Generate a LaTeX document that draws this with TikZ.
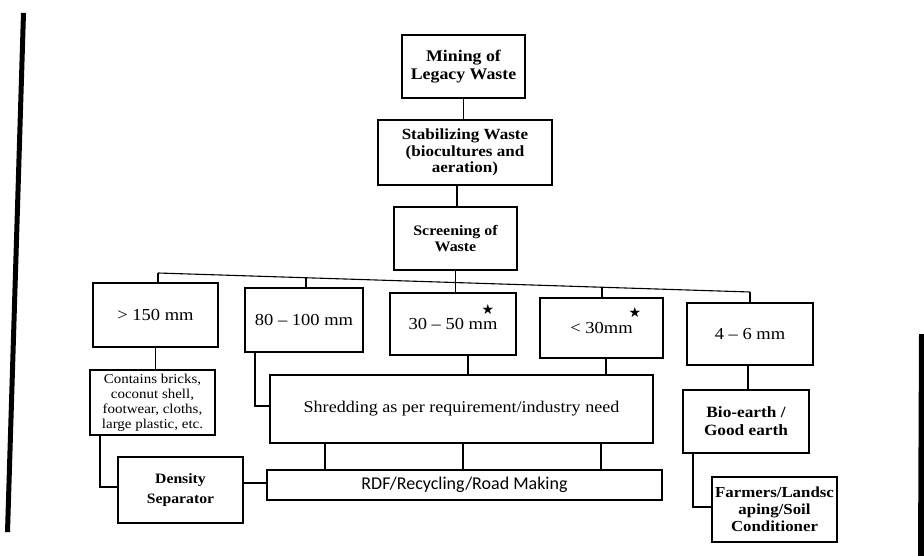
\documentclass[tikz,border=0pt]{standalone}
\usepackage{fontspec}
\setmainfont[FakeStretch=1.1]{Liberation Serif}
\newfontfamily\calib{Carlito}
\newfontfamily\dejavu{DejaVu Sans}
\begin{document}
\begin{tikzpicture}[x=1pt,y=-1pt,
  box/.style={draw, line width=1.1pt, align=center, inner sep=1pt},
  bbox/.style={box, font=\bfseries\fontsize{16.2}{18}\selectfont},
  sbox/.style={box, font=\fontsize{16.8}{18}\selectfont},
  link/.style={line width=1.1pt},
  starmark/.style={font=\dejavu\fontsize{14}{14}\selectfont, inner sep=0pt}]
\useasboundingbox (0,0) rectangle (924,556);
\fill[white] (0,0) rectangle (924,556);
% page border scan artifacts
\fill[black] (21,13) -- (26,13) -- (10,532) -- (5,532) -- cycle;
\fill[black] (919,334) -- (924,334) -- (924,556) -- (918,556) -- cycle;
% top chain
\node[bbox, minimum width=123pt, minimum height=63pt] (mining) at (463.5,66.5) {Mining of\\Legacy Waste};
\node[bbox, font=\bfseries\fontsize{15.5}{16.5}\selectfont, minimum width=174pt, minimum height=65pt] (stab) at (465,152.5) {Stabilizing Waste\\(biocultures and\\aeration)};
\node[bbox, font=\bfseries\fontsize{14.5}{16}\selectfont, minimum width=123pt, minimum height=63pt] (screen) at (455.5,238.5) {Screening of\\Waste};
% size classes
\node[sbox, minimum width=125pt, minimum height=64pt] (s150) at (155.5,315) {{>} 150 mm};
\node[sbox, minimum width=118pt, minimum height=64pt] (s80) at (304,320) {80 -- 100 mm};
\node[sbox, minimum width=126pt, minimum height=62pt] (s30) at (453,324) {30 -- 50 mm};
\node[sbox, minimum width=123pt, minimum height=60pt] (slt) at (601.5,328) {{<} 30mm};
\node[sbox, minimum width=126pt, minimum height=62pt] (s4) at (750,334) {4 -- 6 mm};
\node[starmark] (st1) at (488,309) {★};
\node[starmark] (st2) at (635,312) {★};
% lower level
\node[box, font=\fontsize{13.6}{15}\selectfont, minimum width=125pt, minimum height=65pt] (cont) at (152.5,402.5) {Contains bricks,\\coconut shell,\\footwear, cloths,\\large plastic, etc.};
\node[bbox, font=\bfseries\fontsize{14.3}{20}\selectfont, minimum width=125pt, minimum height=66pt] (dens) at (180.5,490) {Density\\Separator};
\node[sbox, font=\fontsize{16.4}{18}\selectfont, minimum width=383pt, minimum height=68pt] (shred) at (461.5,409) {Shredding as per requirement/industry need};
\node[box, font=\calib\fontsize{18}{20}\selectfont, minimum width=395pt, minimum height=30pt] (rdf) at (464.5,485) {RDF/Recycling/Road Making};
\node[bbox, font=\bfseries\fontsize{15.7}{18}\selectfont, minimum width=126pt, minimum height=63pt] (bio) at (746,421.5) {Bio-earth /\\Good earth};
\node[bbox, font=\bfseries\fontsize{15.3}{17}\selectfont, minimum width=125pt, minimum height=65pt] (farm) at (774.5,509.5) {Farmers/Landsc\\aping/Soil\\Conditioner};
% bus
\coordinate (b1) at (158,273);
\coordinate (b2) at (306,278);
\coordinate (b3) at (455.5,283);
\coordinate (b4) at (602,288);
\coordinate (b5) at (750,292);
% connectors
\draw[link] (mining.south) -- (mining.south |- stab.north);
\draw[link] (screen.north -| 457,0) -- (stab.south -| 457,0);
\draw[link] (screen.south) -- (b3);
\draw[link] (b1) -- (b5);
\draw[link] (b1) -- (b1 |- s150.north);
\draw[link] (b2) -- (b2 |- s80.north);
\draw[link] (b3) -- (b3 |- s30.north);
\draw[link] (b4) -- (b4 |- slt.north);
\draw[link] (b5) -- (b5 |- s4.north);
\draw[link] (s150.south) -- (s150.south |- cont.north);
\coordinate (c1) at (100,487);
\draw[link] (cont.south -| c1) -- (c1) -- (c1 -| dens.west);
\coordinate (c2) at (255,406);
\draw[link] (s80.south -| c2) -- (c2) -- (c2 -| shred.west);
\coordinate (c3) at (468,0);
\draw[link] (s30.south -| c3) -- (shred.north -| c3);
\coordinate (c4) at (606,0);
\draw[link] (slt.south -| c4) -- (shred.north -| c4);
\foreach \xx in {325,463,601} {
  \draw[link] (shred.south -| \xx,0) -- (rdf.north -| \xx,0);
}
\draw[link] (dens.east |- 0,483) -- (rdf.west |- 0,483);
\draw[link] (s4.south -| 748,0) -- (bio.north -| 748,0);
\coordinate (c5) at (693,507);
\draw[link] (bio.south -| c5) -- (c5) -- (c5 -| farm.west);
\end{tikzpicture}
\end{document}
